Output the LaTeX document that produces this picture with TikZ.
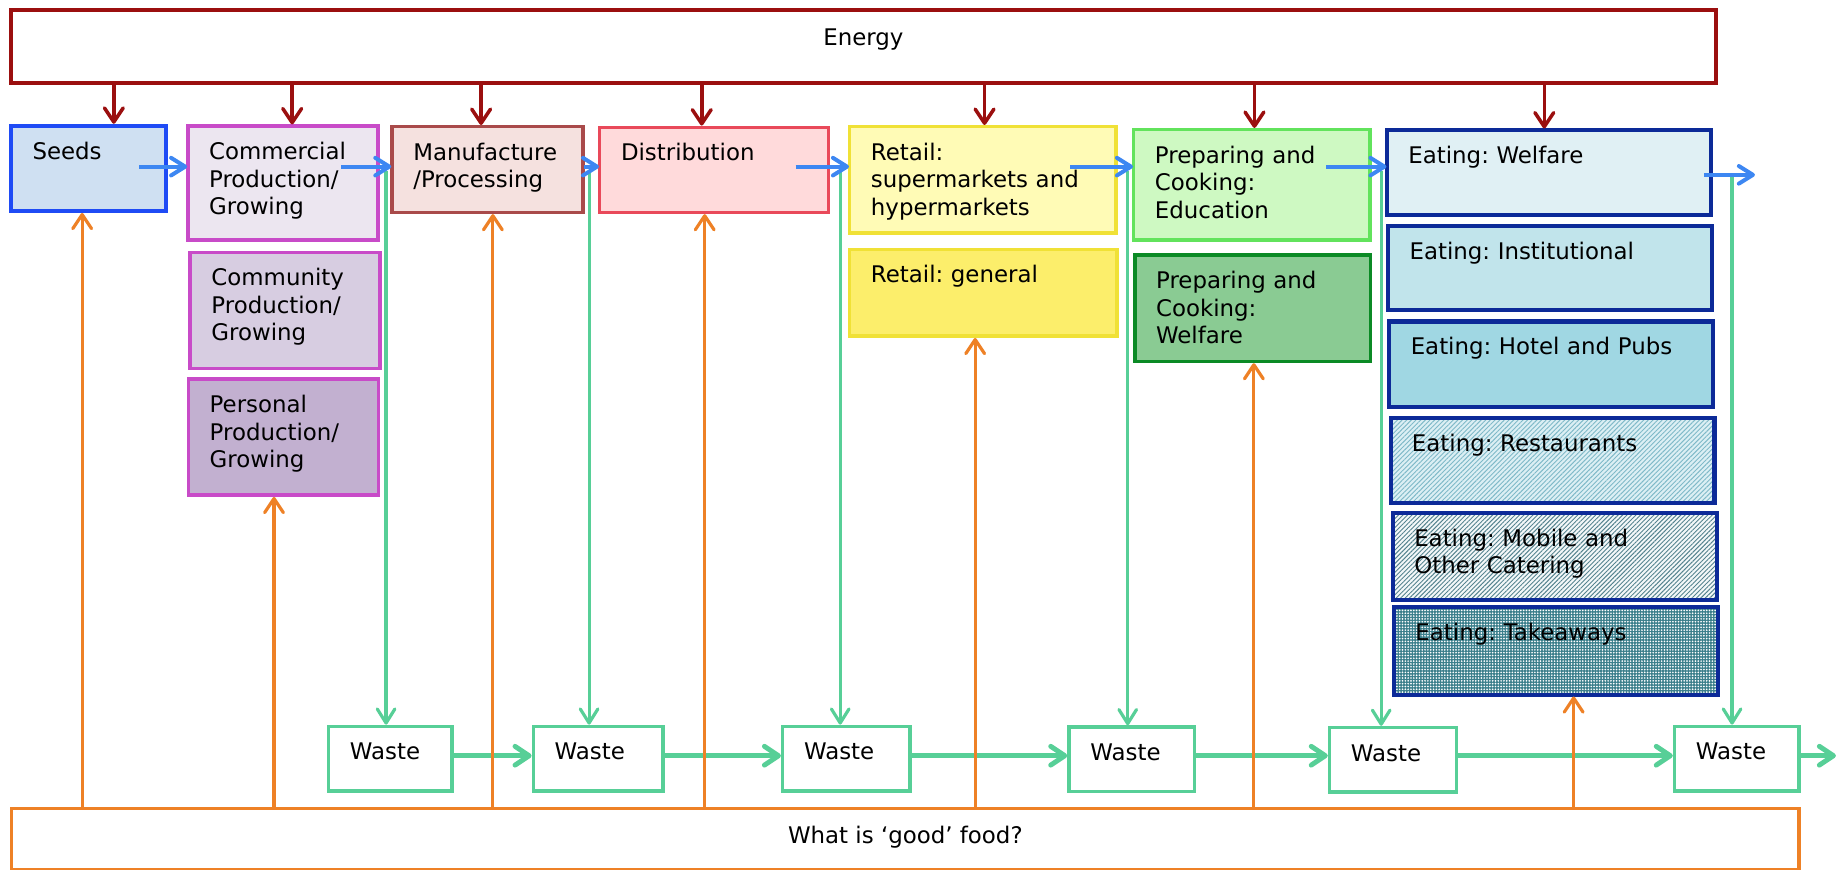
\documentclass[tikz,border=0pt]{standalone}
\usepackage{fontspec}
\setmainfont{DejaVu Sans}
\usetikzlibrary{arrows.meta,patterns.meta}
\definecolor{cRed}{RGB}{155,15,15}
\definecolor{cSeeds}{RGB}{31,75,245}
\definecolor{cMag}{RGB}{200,75,200}
\definecolor{cManu}{RGB}{169,74,74}
\definecolor{cDist}{RGB}{233,73,90}
\definecolor{cRetail}{RGB}{240,225,54}
\definecolor{cPedu}{RGB}{98,227,92}
\definecolor{cPwel}{RGB}{11,138,37}
\definecolor{cEat}{RGB}{12,42,152}
\definecolor{cWaste}{RGB}{87,207,151}
\definecolor{cBlue}{RGB}{61,135,242}
\definecolor{cOrange}{RGB}{238,129,38}
\definecolor{fSeeds}{HTML}{CFE0F2}
\definecolor{fComm}{HTML}{ECE6F0}
\definecolor{fCommu}{HTML}{D7CDE1}
\definecolor{fPers}{HTML}{C2B0D0}
\definecolor{fManu}{HTML}{F5E1DF}
\definecolor{fDist}{HTML}{FFDADB}
\definecolor{fRsup}{HTML}{FFFBB6}
\definecolor{fRgen}{HTML}{FCEE6B}
\definecolor{fPedu}{HTML}{CEF9C2}
\definecolor{fPwel}{HTML}{8ACB93}
\definecolor{fEwel}{HTML}{E0F0F4}
\definecolor{fEinst}{HTML}{C1E4EB}
\definecolor{fEhot}{HTML}{A0D7E3}
\definecolor{fErest}{HTML}{DCEFF4}
\definecolor{pErest}{HTML}{7FB9C8}
\definecolor{fEmob}{HTML}{F4F8F9}
\definecolor{pEmob}{HTML}{55838F}
\definecolor{fEtake}{HTML}{3A7E8B}
\newcommand\lblfont{\fontsize{19.5}{23.5}\selectfont}
\frenchspacing
\begin{document}
\begin{tikzpicture}[x=1pt,y=-1pt,
  box/.style={draw, line width=3pt, anchor=north west, inner sep=0pt, outer sep=0pt},
  eat/.style={box, draw=cEat, line width=3.5pt, minimum width=276pt},
  waste/.style={box, draw=cWaste, fill=white, minimum width=#1, minimum height=55pt},
  lbl/.style={anchor=base west, xshift=18pt, yshift=-28.5pt, inner sep=0pt,
    text width=300pt, align=left, font=\lblfont\frenchspacing, text=black},
  ctr/.style={anchor=base, inner sep=0pt, font=\lblfont, text=black},
  redarrow/.style={draw=cRed, line width=3pt, shorten >=1.5pt,
    -{Straight Barb[length=12pt,width=16pt,round]}},
  orangearrow/.style={draw=cOrange, line width=2.7pt, shorten >=1.5pt,
    -{Straight Barb[length=12pt,width=16pt,round]}},
  greenarrow/.style={draw=cWaste, line width=2.7pt, shorten >=1.5pt,
    -{Straight Barb[length=12pt,width=15pt,round]}},
  wastearrow/.style={draw=cWaste, line width=4.2pt, shorten >=1.5pt,
    -{Straight Barb[length=12pt,width=16pt,round]}},
  bluearrow/.style={draw=cBlue, line width=3.4pt, shorten >=0.5pt,
    -{Straight Barb[length=12pt,width=15pt,round]}}
]
\useasboundingbox[fill=white] (0,0) rectangle (1568,741);

% ---- top and bottom bars
\node[box, draw=cRed, fill=white, line width=3.5pt, minimum width=1452.5pt, minimum height=62pt,
  label={[ctr, yshift=-30pt]north:Energy}] (energy) at (9.5,8.5) {};
\node[box, draw=cOrange, fill=white, line width=3pt, minimum width=1523pt, minimum height=52pt,
  label={[ctr, yshift=-29.6pt]north:{What is ‘good’ food?}}] (food) at (10,689) {};

% ---- stage boxes
\node[box, draw=cSeeds, fill=fSeeds, line width=3.5pt, minimum width=132pt, minimum height=73pt,
  label={[lbl]north west:Seeds}] (seeds) at (9.5,107) {};
\node[box, draw=cMag, fill=fComm, minimum width=162pt, minimum height=97pt,
  label={[lbl]north west:{Commercial\\Production/\\Growing}}] (comm) at (160,107.5) {};
\node[box, draw=cMag, fill=fCommu, minimum width=162pt, minimum height=99pt,
  label={[lbl]north west:{Community\\Production/\\Growing}}] (commu) at (162,215) {};
\node[box, draw=cMag, fill=fPers, minimum width=162pt, minimum height=99pt,
  label={[lbl]north west:{Personal\\Production/\\Growing}}] (pers) at (160.5,323) {};
\node[box, draw=cManu, fill=fManu, minimum width=163pt, minimum height=73pt,
  label={[lbl]north west:{Manufacture\\/Processing}}] (manu) at (334,108) {};
\node[box, draw=cDist, fill=fDist, minimum width=195pt, minimum height=72.5pt,
  label={[lbl]north west:Distribution}] (dist) at (511,108.5) {};
\node[box, draw=cRetail, fill=fRsup, minimum width=227pt, minimum height=90.5pt,
  label={[lbl]north west:{Retail:\\supermarkets and\\hypermarkets}}] (rsup) at (724,108) {};
\node[box, draw=cRetail, fill=fRgen, minimum width=228pt, minimum height=74pt,
  label={[lbl]north west:{Retail: general}}] (rgen) at (724,212.5) {};
\node[box, draw=cPedu, fill=fPedu, minimum width=201.5pt, minimum height=94pt,
  label={[lbl]north west:{Preparing and\\Cooking:\\Education}}] (pedu) at (966,110.5) {};
\node[box, draw=cPwel, fill=fPwel, minimum width=201pt, minimum height=90.5pt,
  label={[lbl]north west:{Preparing and\\Cooking:\\Welfare}}] (pwel) at (967,217.5) {};

% ---- eating boxes
\node[eat, fill=fEwel, minimum height=72pt,
  label={[lbl]north west:{Eating: Welfare}}] (ewel) at (1182,111) {};
\node[eat, fill=fEinst, minimum height=72pt,
  label={[lbl]north west:{Eating: Institutional}}] (einst) at (1183,192.5) {};
\node[eat, fill=fEhot, minimum height=73pt,
  label={[lbl]north west:{Eating: Hotel and Pubs}}] (ehot) at (1184,274) {};
\node[eat, preaction={fill=fErest}, pattern={Lines[angle=45,distance=2.8pt,line width=0.8pt]},
  pattern color=pErest, minimum height=73pt,
  label={[lbl]north west:{Eating: Restaurants}}] (erest) at (1185,356) {};
\node[eat, preaction={fill=fEmob}, pattern={Lines[angle=45,distance=2.7pt,line width=0.8pt]},
  pattern color=pEmob, minimum height=74pt,
  label={[lbl]north west:{Eating: Mobile and\\Other Catering}}] (emob) at (1187,437) {};
\node[eat, preaction={fill=fEtake}, pattern={Dots[distance=2.4pt,radius=0.8pt]},
  pattern color=white, minimum height=75pt,
  label={[lbl]north west:{Eating: Takeaways}}] (etake) at (1188,517) {};

% ---- waste boxes
\node[waste=105pt, label={[lbl]north west:Waste}] (waste1) at (280,619) {};
\node[waste=110.5pt, label={[lbl]north west:Waste}] (waste2) at (454.5,619) {};
\node[waste=108.5pt, label={[lbl]north west:Waste}] (waste3) at (667,619) {};
\node[waste=107pt, label={[lbl]north west:Waste}] (waste4) at (911,619.5) {};
\node[waste=108pt, label={[lbl]north west:Waste}] (waste5) at (1133,620) {};
\node[waste=106pt, label={[lbl]north west:Waste}] (waste6) at (1427,619) {};

% ---- helper coordinates
\coordinate (e1) at (97,0);   \coordinate (e2) at (249,0);  \coordinate (e3) at (410,0);
\coordinate (e4) at (598,0);  \coordinate (e5) at (839,0);  \coordinate (e6) at (1069,0);
\coordinate (e7) at (1316,0);
\coordinate (o1) at (70,0);   \coordinate (o2) at (233.5,0); \coordinate (o3) at (420,0);
\coordinate (o4) at (600.5,0); \coordinate (o5) at (831,0);  \coordinate (o6) at (1068.5,0);
\coordinate (o7) at (1341,0);
\coordinate (g1) at (329,146);  \coordinate (g2) at (502,146);  \coordinate (g3) at (716,146);
\coordinate (g4) at (961,146);  \coordinate (g5) at (1177,146); \coordinate (g6) at (1476,150);
\coordinate (b1) at (118.6,142); \coordinate (b2) at (291,142); \coordinate (b3) at (498,142);
\coordinate (b4) at (678,142);   \coordinate (b5) at (912,142); \coordinate (b6) at (1130,142);
\coordinate (b7) at (1452,149);  \coordinate (bend) at (1496,149);
\coordinate (wy) at (0,644);     \coordinate (wend) at (1566,644);

% ---- energy arrows
\draw[redarrow] (energy.south -| e1) -- (e1 |- seeds.north);
\draw[redarrow] (energy.south -| e2) -- (e2 |- comm.north);
\draw[redarrow] (energy.south -| e3) -- (e3 |- manu.north);
\draw[redarrow] (energy.south -| e4) -- (e4 |- dist.north);
\draw[redarrow] (energy.south -| e5) -- (e5 |- rsup.north);
\draw[redarrow] (energy.south -| e6) -- (e6 |- pedu.north);
\draw[redarrow] (energy.south -| e7) -- (e7 |- ewel.north);

% ---- waste flows
\draw[greenarrow] (g1) -- (g1 |- waste1.north);
\draw[greenarrow] (g2) -- (g2 |- waste2.north);
\draw[greenarrow] (g3) -- (g3 |- waste3.north);
\draw[greenarrow] (g4) -- (g4 |- waste4.north);
\draw[greenarrow] (g5) -- (g5 |- waste5.north);
\draw[greenarrow] (g6) -- (g6 |- waste6.north);
\draw[wastearrow] (waste1.east |- wy) -- (waste2.west |- wy);
\draw[wastearrow] (waste2.east |- wy) -- (waste3.west |- wy);
\draw[wastearrow] (waste3.east |- wy) -- (waste4.west |- wy);
\draw[wastearrow] (waste4.east |- wy) -- (waste5.west |- wy);
\draw[wastearrow] (waste5.east |- wy) -- (waste6.west |- wy);
\draw[wastearrow] (waste6.east |- wy) -- (wend);

% ---- good food arrows
\draw[orangearrow] (food.north -| o1) -- (o1 |- seeds.south);
\draw[orangearrow] (food.north -| o2) -- (o2 |- pers.south);
\draw[orangearrow] (food.north -| o3) -- (o3 |- manu.south);
\draw[orangearrow] (food.north -| o4) -- (o4 |- dist.south);
\draw[orangearrow] (food.north -| o5) -- (o5 |- rgen.south);
\draw[orangearrow] (food.north -| o6) -- (o6 |- pwel.south);
\draw[orangearrow] (food.north -| o7) -- (o7 |- etake.south);

% ---- chain arrows
\draw[bluearrow] (b1) -- (b1 -| comm.west);
\draw[bluearrow] (b2) -- (b2 -| manu.west);
\draw[bluearrow] (b3) -- (b3 -| dist.west);
\draw[bluearrow] (b4) -- (b4 -| rsup.west);
\draw[bluearrow] (b5) -- (b5 -| pedu.west);
\draw[bluearrow] (b6) -- (b6 -| ewel.west);
\draw[bluearrow] (b7) -- (bend);
\end{tikzpicture}
\end{document}
